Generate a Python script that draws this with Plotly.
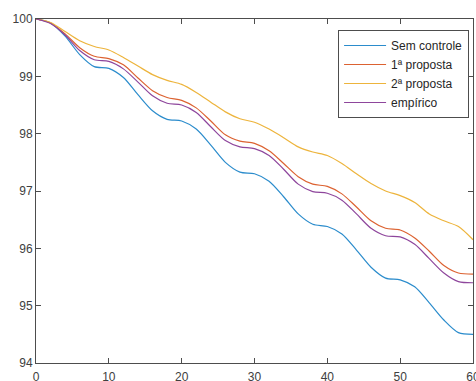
import plotly.graph_objects as go

x_vals = list(range(0, 61, 2))

sem_controle = [100.0, 99.93, 99.7, 99.38, 99.17, 99.14, 98.98, 98.68, 98.4, 98.25,
                98.22, 98.08, 97.8, 97.5, 97.33, 97.3, 97.17, 96.9, 96.6, 96.42,
                96.38, 96.25, 95.97, 95.67, 95.48, 95.45, 95.33, 95.05, 94.75, 94.53, 94.5]

proposta_1 = [100.0, 99.93, 99.74, 99.5, 99.35, 99.31, 99.2, 98.97, 98.75, 98.63,
              98.58, 98.45, 98.22, 97.98, 97.87, 97.83, 97.7, 97.48, 97.25, 97.12,
              97.08, 96.95, 96.72, 96.48, 96.35, 96.32, 96.18, 95.95, 95.7, 95.57, 95.55]

proposta_2 = [100.0, 99.94, 99.78, 99.62, 99.52, 99.46, 99.33, 99.18, 99.03, 98.93,
              98.86, 98.72, 98.55, 98.38, 98.26, 98.2, 98.08, 97.93, 97.77, 97.68,
              97.62, 97.48, 97.3, 97.13, 97.0, 96.92, 96.8, 96.6, 96.48, 96.38, 96.15]

empirico = [100.0, 99.92, 99.72, 99.45, 99.29, 99.26, 99.13, 98.9, 98.66, 98.53,
            98.5, 98.37, 98.12, 97.88, 97.77, 97.74, 97.62, 97.38, 97.12, 96.99,
            96.96, 96.84, 96.6, 96.35, 96.22, 96.2, 96.07, 95.82, 95.57, 95.42, 95.4]

series_names = ["Sem controle", "1ª proposta", "2ª proposta", "empírico"]
series_data = [sem_controle, proposta_1, proposta_2, empirico]
colors = ["#2b8ccc", "#dc6231", "#edb43c", "#8e469c"]

x_ticks = [0, 10, 20, 30, 40, 50, 60]
y_ticks = [94, 95, 96, 97, 98, 99, 100]

fig = go.Figure()
for name, ys, c in zip(series_names, series_data, colors):
    fig.add_trace(go.Scatter(x=x_vals, y=ys, mode="lines", name=name,
                             line=dict(color=c, width=1.2, shape="spline", smoothing=0.8)))

axis_common = dict(showgrid=False, zeroline=False, showline=True, linecolor="#4d4d4d",
                   linewidth=1, mirror="ticks", ticks="inside", ticklen=5,
                   tickcolor="#4d4d4d", ticklabeloverflow="allow",
                   tickfont=dict(family="Liberation Sans, Arial", size=12, color="#404040"))

fig.update_xaxes(range=[0, 60], tickvals=x_ticks, ticklabelstandoff=3, **axis_common)
fig.update_yaxes(range=[94, 100], tickvals=y_ticks, **axis_common)

fig.update_layout(
    width=476, height=381,
    margin=dict(l=36, r=3, t=19, b=18, autoexpand=False),
    paper_bgcolor="white", plot_bgcolor="white",
    font=dict(family="Liberation Sans, Arial", size=12, color="#262626"),
    legend=dict(x=0.991, y=0.968, xanchor="right", yanchor="top",
                bgcolor="white", bordercolor="#4d4d4d", borderwidth=1,
                font=dict(size=12, color="#262626"), itemwidth=42, tracegroupgap=0),
    showlegend=True,
)

fig.write_html("out.html", config={"displayModeBar": False},
               post_script="document.body.style.margin='0';document.body.style.overflow='hidden';")
